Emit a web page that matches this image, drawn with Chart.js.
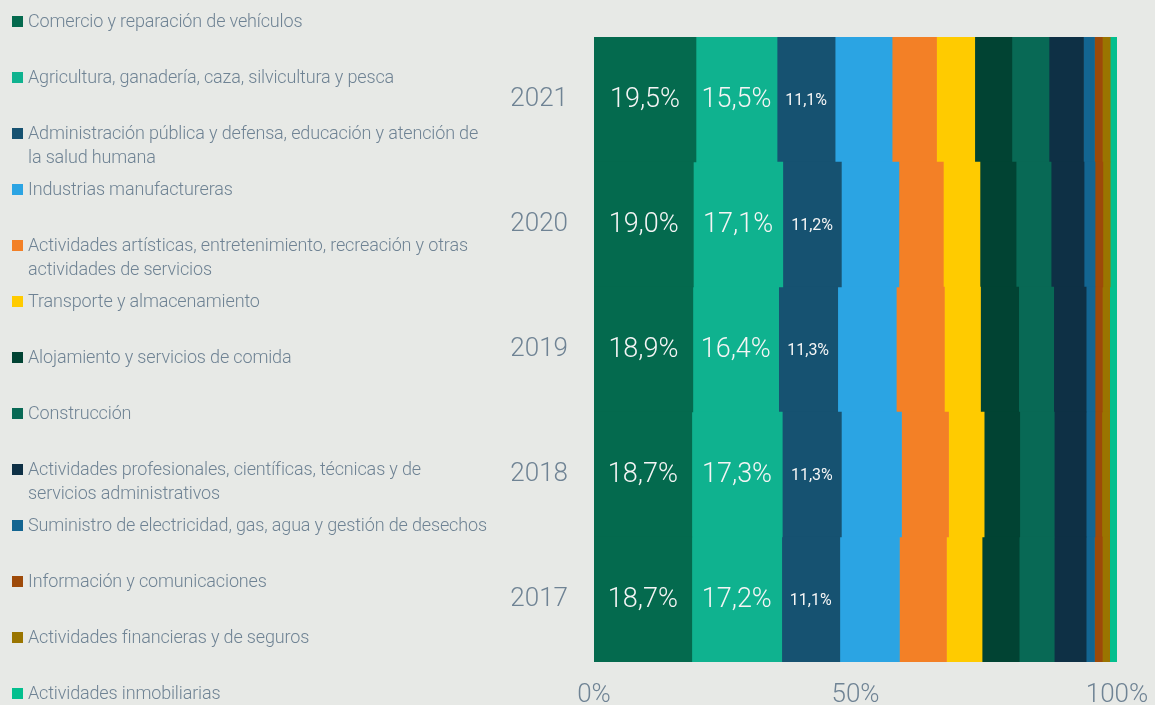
<!DOCTYPE html>
<html lang="es">
<head>
<meta charset="utf-8">
<script src="https://cdn.jsdelivr.net/npm/chart.js@4.4.1/dist/chart.umd.min.js"></script>
<style>
  html, body { margin: 0; padding: 0; background: #e7e9e6; }
  #wrap { position: relative; width: 1155px; height: 705px; overflow: hidden; }
  #chart { position: absolute; left: 0; top: 0; }
  #legend { position: absolute; left: 0; top: 0; width: 500px; height: 705px; }
  .item { position: absolute; left: 12px; width: 480px; font-family: Roboto, sans-serif; font-weight: 300;
          font-size: 18px; line-height: 24px; color: #6f8394; letter-spacing: -0.15px; }
  .item .box { position: absolute; left: 0; top: 7px; width: 11px; height: 11px; }
  .item .txt { display: block; margin-left: 16px; width: 462px; }
</style>
</head>
<body>
<div id="wrap">
  <canvas id="chart" width="1155" height="705"></canvas>
  <div id="legend"></div>
</div>
<script>
const years = ['2021', '2020', '2019', '2018', '2017'];

const sectors = [
  'Comercio y reparación de vehículos',
  'Agricultura, ganadería, caza, silvicultura y pesca',
  'Administración pública y defensa, educación y atención de la salud humana',
  'Industrias manufactureras',
  'Actividades artísticas, entretenimiento, recreación y otras actividades de servicios',
  'Transporte y almacenamiento',
  'Alojamiento y servicios de comida',
  'Construcción',
  'Actividades profesionales, científicas, técnicas y de servicios administrativos',
  'Suministro de electricidad, gas, agua y gestión de desechos',
  'Información y comunicaciones',
  'Actividades financieras y de seguros',
  'Actividades inmobiliarias'
];

const colors = [
  '#046a4e', '#0fb28f', '#165271', '#2ba4e3', '#f38026', '#ffcb00', '#014333',
  '#086955', '#0e3045', '#136591', '#9e4a09', '#9a7500', '#03bf8e'
];

// shares per year, order 2021..2017
const comercio       = [19.5, 19.0, 18.9, 18.7, 18.7];
const agricultura    = [15.5, 17.1, 16.4, 17.3, 17.2];
const administracion = [11.1, 11.2, 11.3, 11.3, 11.1];
const industrias     = [10.9, 11.0, 11.2, 11.5, 11.4];
const artisticas     = [8.5, 8.5, 9.2, 9.0, 9.0];
const transporte     = [7.3, 7.0, 6.9, 6.8, 6.8];
const alojamiento    = [7.1, 6.9, 7.3, 6.8, 7.1];
const construccion   = [7.1, 6.7, 6.7, 6.6, 6.7];
const profesionales  = [6.6, 6.3, 6.2, 6.1, 6.1];
const suministro     = [2.1, 2.1, 1.7, 1.7, 1.6];
const informacion    = [1.5, 1.5, 1.4, 1.3, 1.5];
const financieras    = [1.5, 1.4, 1.4, 1.5, 1.4];
const inmobiliarias  = [1.3, 1.3, 1.4, 1.4, 1.4];

const series = [comercio, agricultura, administracion, industrias, artisticas, transporte,
  alojamiento, construccion, profesionales, suministro, informacion, financieras, inmobiliarias];

const xTicks = [0, 50, 100];
const labelledSeries = 3; // only the first three segments carry a value label

const textColor = '#6f8394';

// draws the value inside the first segments
const barLabels = {
  id: 'barLabels',
  afterDatasetsDraw(chart) {
    const ctx = chart.ctx;
    ctx.save();
    ctx.fillStyle = '#f5f5f5';
    ctx.textAlign = 'center';
    ctx.textBaseline = 'middle';
    for (let d = 0; d < labelledSeries; d++) {
      const meta = chart.getDatasetMeta(d);
      meta.data.forEach((bar, i) => {
        const v = chart.data.datasets[d].data[i];
        ctx.font = v >= 15 ? '300 27px Roboto, sans-serif' : '400 16px Roboto, sans-serif';
        ctx.fillText(v.toFixed(1).replace('.', ',') + '%', (bar.x + bar.base) / 2, bar.y + 1);
      });
    }
    ctx.restore();
  }
};

const chart = new Chart(document.getElementById('chart'), {
  type: 'bar',
  data: {
    labels: years,
    datasets: series.map((s, i) => ({
      label: sectors[i],
      data: s,
      backgroundColor: colors[i],
      borderWidth: 0,
      barPercentage: 1,
      categoryPercentage: 1
    }))
  },
  options: {
    indexAxis: 'y',
    responsive: false,
    animation: false,
    layout: { padding: { top: 37, right: 38, left: 0, bottom: 0 } },
    plugins: {
      legend: { display: false },
      tooltip: { enabled: false }
    },
    scales: {
      x: {
        stacked: true,
        min: 0,
        max: 100,
        afterBuildTicks(scale) {
          scale.ticks = xTicks.map(v => ({ value: v }));
        },
        afterFit(scale) {
          scale.height = 43;
          // tick labels may hang over the edges, don't let them shrink the plot
          scale.paddingLeft = 0;
          scale.paddingRight = 0;
        },
        border: { display: false },
        grid: { display: false, drawTicks: false },
        ticks: {
          padding: 18,
          color: textColor,
          font: { family: 'Roboto', size: 26, weight: 300 },
          maxRotation: 0,
          callback: v => v + '%'
        }
      },
      y: {
        stacked: true,
        afterFit(scale) {
          scale.width = 594;
          scale.paddingTop = 0;
          scale.paddingBottom = 0;
        },
        border: { display: false },
        grid: { display: false, drawTicks: false },
        ticks: {
          padding: 26,
          color: textColor,
          font: { family: 'Roboto', size: 26, weight: 300 }
        }
      }
    }
  },
  plugins: [barLabels]
});

// html legend on the left, built from the chart's datasets
const legend = document.getElementById('legend');
chart.data.datasets.forEach((ds, i) => {
  const item = document.createElement('div');
  item.className = 'item';
  item.style.top = (9 + i * 56) + 'px';
  const box = document.createElement('span');
  box.className = 'box';
  box.style.background = ds.backgroundColor;
  const txt = document.createElement('span');
  txt.className = 'txt';
  txt.textContent = ds.label;
  item.appendChild(box);
  item.appendChild(txt);
  legend.appendChild(item);
});
</script>
</body>
</html>
